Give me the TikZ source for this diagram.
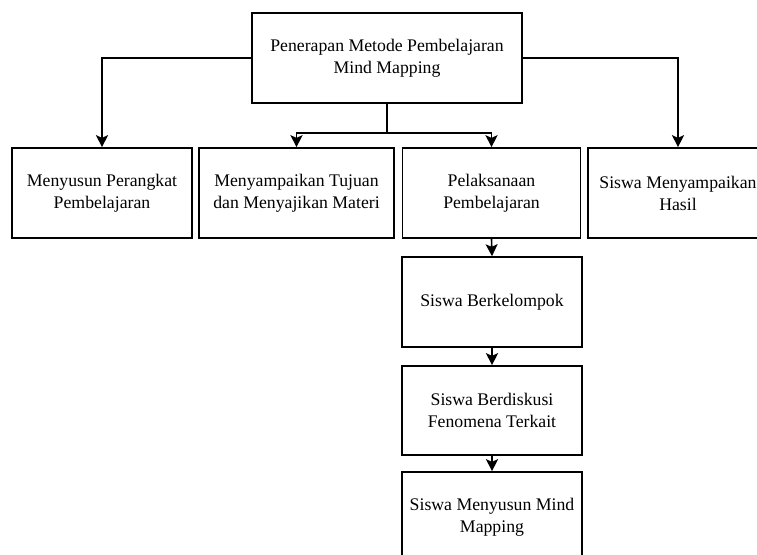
\documentclass[tikz,border=0pt]{standalone}
\usepackage{fontspec}
\setmainfont{Liberation Serif}
\usetikzlibrary{arrows.meta}
\begin{document}
\begin{tikzpicture}[x=0.75pt,y=-0.75pt,
  box/.style={draw,line width=1.2pt,rectangle,align=center,font=\fontsize{13.3}{16.5}\selectfont,inner sep=0pt},
  arr/.style={line width=1.2pt,-{Stealth[length=9pt,width=9pt,inset=2pt]}}]
\useasboundingbox (0,0) rectangle (757,555);
\node[box,minimum width=270*0.75pt,minimum height=90*0.75pt] (top) at (387,58) {Penerapan Metode Pembelajaran\\Mind Mapping};
\node[box,minimum width=180*0.75pt,minimum height=90*0.75pt] (b1) at (102,193) {Menyusun Perangkat\\Pembelajaran};
\node[box,minimum width=195*0.75pt,minimum height=90*0.75pt] (b2) at (296.5,193) {Menyampaikan Tujuan\\dan Menyajikan Materi};
\node[box,minimum width=178*0.75pt,minimum height=90*0.75pt] (b3) at (491.5,193) {Pelaksanaan\\Pembelajaran};
\node[box,minimum width=180*0.75pt,minimum height=90*0.75pt] (b4) at (678,193) {Siswa Menyampaikan\\Hasil};
\node[box,minimum width=180*0.75pt,minimum height=90*0.75pt] (c1) at (492,302) {Siswa Berkelompok};
\node[box,minimum width=180*0.75pt,minimum height=89*0.75pt] (c2) at (492,410.5) {Siswa Berdiskusi\\Fenomena Terkait};
\node[box,minimum width=180*0.75pt,minimum height=90*0.75pt] (c3) at (492,517) {Siswa Menyusun Mind\\Mapping};
\coordinate (j) at (387,133);
\draw[arr] (top.west) -| (b1.north);
\draw[arr] (top.east) -| (b4.north);
\draw[line width=1.2pt] (top.south) -- (j);
\draw[arr] (j) -| (b2.north);
\draw[arr] (j) -| (b3.north);
\draw[arr] (b3.south) -- (c1.north);
\draw[arr] (c1.south) -- (c2.north);
\draw[arr] (c2.south) -- (c3.north);
\end{tikzpicture}
\end{document}
